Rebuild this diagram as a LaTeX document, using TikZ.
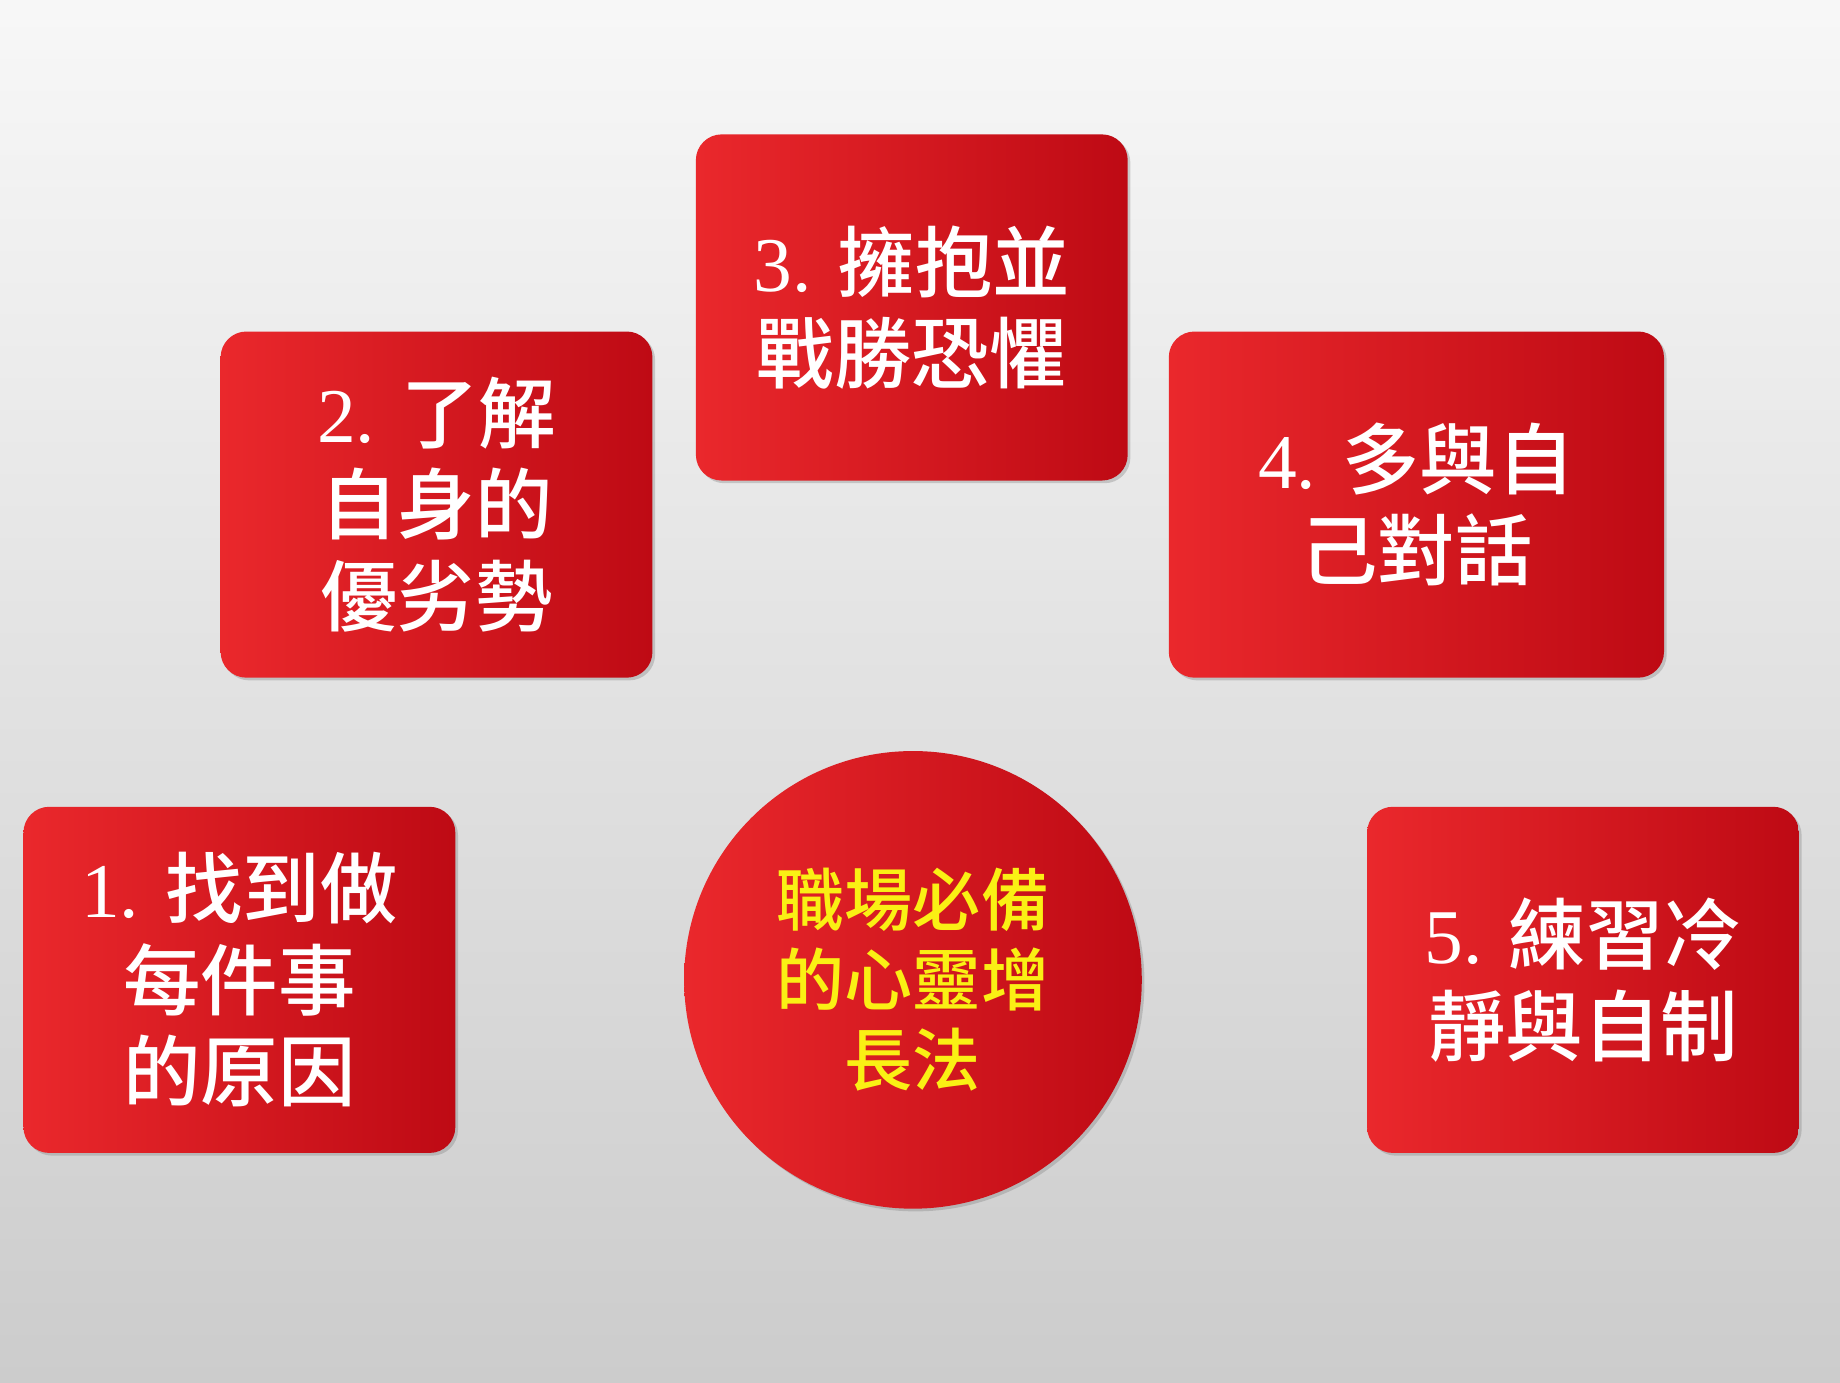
\documentclass[tikz,border=0pt]{standalone}
\usepackage{fontspec}
\setmainfont{Liberation Serif}
\newfontfamily\cjk{Noto Sans CJK TC Medium}
\usetikzlibrary{positioning,shadows,arrows.meta}
\definecolor{boxred}{RGB}{190,10,20}
\definecolor{boxlight}{RGB}{234,40,44}
\definecolor{arrowpink}{RGB}{222,168,170}
\definecolor{ctryellow}{RGB}{250,240,20}
\pgfdeclarelayer{back}
\pgfsetlayers{back,main}

\begin{document}
\begin{tikzpicture}
    [
    x=1pt, y=-1pt,
    step box/.style={rectangle,rounded corners=22pt,minimum width=368pt,minimum height=295pt,
      left color=boxlight,right color=boxred,text=white,align=center,
      font=\fontsize{66}{78}\selectfont,drop shadow={opacity=0.35}},
    core/.style={circle,minimum size=390pt,left color=boxlight,right color=boxred,
      text=ctryellow,align=center,font=\cjk\fontsize{58}{68}\selectfont,drop shadow={opacity=0.35}},
    flow/.style={draw=arrowpink,line width=75pt,
      -{Triangle[width=110pt,length=75pt,sep=0pt]}}
    ]
    \shade[top color=white!94!gray,bottom color=gray!40] (0,0) rectangle (1568,1178);
    \useasboundingbox (0,0) rectangle (1568,1178);

    \node (c) at (778,835) [core] {職場必備\\的心靈增\\長法};
    \node (b1) at (204,835) [step box] {1. {\cjk 找到做}\\{\cjk 每件事}\\{\cjk 的原因}};
    \node (b2) at (372,430) [step box] {2. {\cjk 了解}\\{\cjk 自身的}\\{\cjk 優劣勢}};
    \node (b3) at (777,262) [step box] {3. {\cjk 擁抱並}\\{\cjk 戰勝恐懼}};
    \node (b4) at (1207,430) [step box,minimum width=422pt] {4. {\cjk 多與自}\\{\cjk 己對話}};
    \node (b5) at (1349,835) [step box] {5. {\cjk 練習冷}\\{\cjk 靜與自制}};

    \begin{pgfonlayer}{back}
    \draw [flow] (b1.east) -- ([xshift=-22pt]c.west);
    \draw [flow] (b5.west) -- ([xshift=22pt]c.east);
    \draw [flow] (b3.south) -- ([yshift=-20pt]c.north);
    \draw [flow] ([xshift=150pt]b2.south) -- ([xshift=-8pt,yshift=8pt]c.north west);
    \draw [flow] ([xshift=-150pt]b4.south) -- ([xshift=8pt,yshift=8pt]c.north east);
    \end{pgfonlayer}
  \end{tikzpicture}
\end{document}
